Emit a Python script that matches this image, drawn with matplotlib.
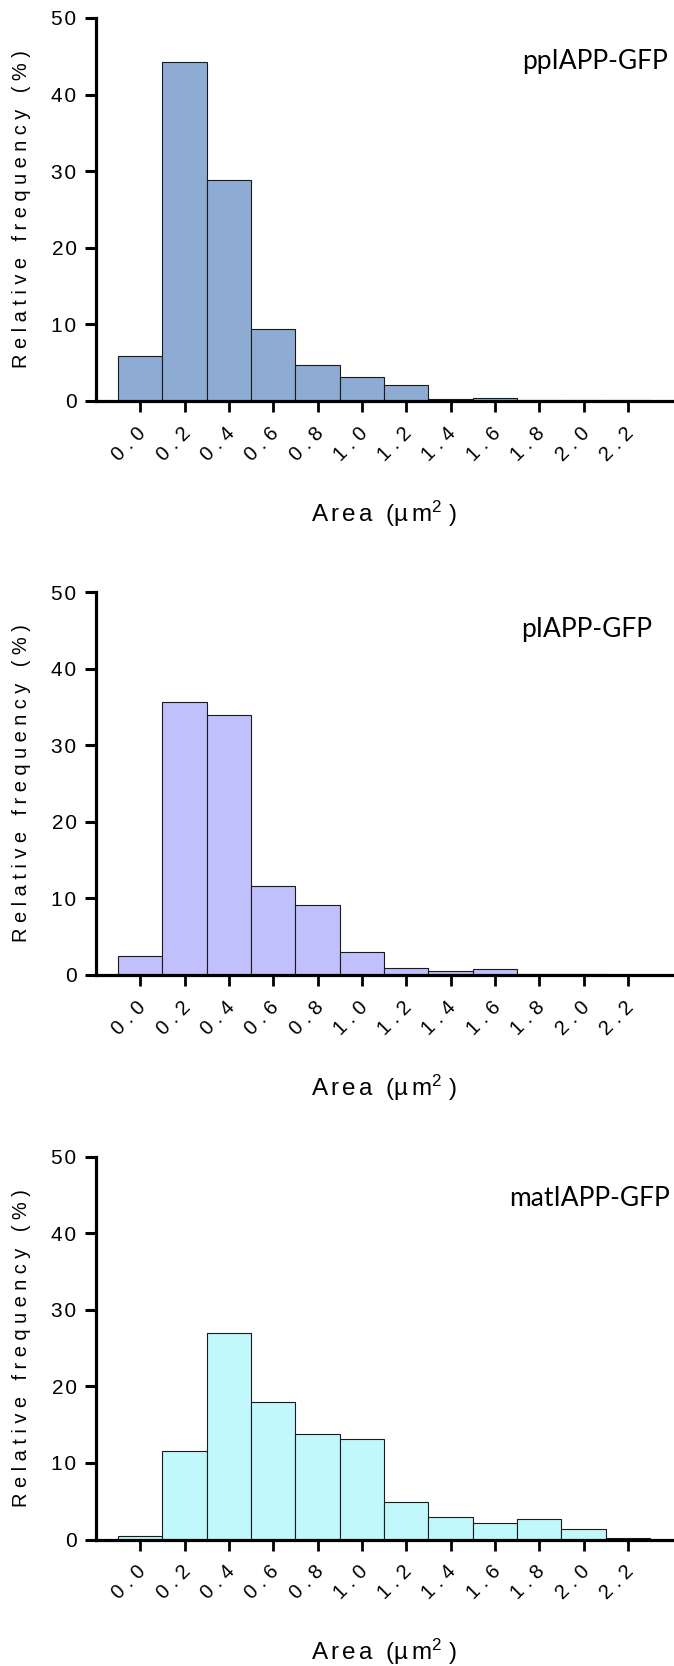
import matplotlib
matplotlib.use("Agg")
import matplotlib.pyplot as plt
from matplotlib.transforms import ScaledTranslation

plt.rcParams['font.family'] = ['Liberation Sans', 'DejaVu Sans']
plt.rcParams['mathtext.fontset'] = 'custom'
plt.rcParams['mathtext.rm'] = 'Liberation Sans'
plt.rcParams['mathtext.it'] = 'Liberation Sans'
plt.rcParams['mathtext.default'] = 'regular'

# Histogram bins (area, µm²) and relative frequencies (%) per construct
bin_centers = [0.0, 0.2, 0.4, 0.6, 0.8, 1.0, 1.2, 1.4, 1.6, 1.8, 2.0, 2.2]
tick_labels = ['0.0', '0.2', '0.4', '0.6', '0.8', '1.0', '1.2', '1.4', '1.6', '1.8', '2.0', '2.2']
y_ticks = [0, 10, 20, 30, 40, 50]

ppiapp_freq = [5.9, 44.3, 28.9, 9.4, 4.7, 3.1, 2.05, 0.3, 0.45, 0.1, 0.1, 0.1]
piapp_freq = [2.5, 35.6, 34.0, 11.6, 9.2, 3.0, 0.96, 0.57, 0.83, 0.1, 0.1, 0.05]
matiapp_freq = [0.43, 11.6, 27.0, 18.0, 13.8, 13.1, 4.96, 2.9, 2.2, 2.7, 1.43, 0.2]

names = ['ppIAPP-GFP', 'pIAPP-GFP', 'matIAPP-GFP']
colors = ['#8eacd3', '#c0c0fc', '#c0f8fc']
series = [ppiapp_freq, piapp_freq, matiapp_freq]
# label anchor (right end, baseline) in data coordinates
name_pos = [(2.38, 43.3), (2.31, 44.1), (2.39, 43.6)]

HAIR = '\u200a'
y_title = ' '.join('Relative frequency (%)')
x_title = r'A$\,$r$\,$e$\,$a  (' + '\u00b5' + r'$\,$m$^{2}$ )'

W, H = 674, 1666
fig = plt.figure(figsize=(W / 100, H / 100), dpi=100)

ax_left = 96 / W
ax_w = 576.3 / W
ax_h = 383 / H
bottoms_px = [401, 975, 1539.5]
label_shift = ScaledTranslation(-4 / 100, 1 / 100, fig.dpi_scale_trans)

for i in range(3):
    ax = fig.add_axes([ax_left, (H - bottoms_px[i]) / H, ax_w, ax_h])
    ax.bar(bin_centers, series[i], width=0.2, align='center',
           color=colors[i], edgecolor='#1a1a1a', linewidth=0.8, zorder=1)
    ax.set_xlim(-0.2, 2.4)
    ax.set_ylim(0, 50)
    for s in ['top', 'right']:
        ax.spines[s].set_visible(False)
    for s in ['left', 'bottom']:
        ax.spines[s].set_linewidth(2.3)
        ax.spines[s].set_color('black')
        ax.spines[s].set_zorder(3)
    ax.set_yticks(y_ticks)
    ax.set_yticklabels([HAIR.join(str(v)) for v in y_ticks])
    ax.set_xticks(bin_centers)
    ax.set_xticklabels([' '.join(t) for t in tick_labels])
    ax.tick_params(axis='y', direction='out', length=8, width=2.2,
                   labelsize=15, pad=6)
    ax.tick_params(axis='x', direction='out', length=8, width=2.0,
                   labelsize=14.5, pad=9)
    for lab in ax.get_xticklabels():
        lab.set_rotation(45)
        lab.set_rotation_mode('anchor')
        lab.set_ha('right')
        lab.set_va('top')
        lab.set_transform(lab.get_transform() + label_shift)

    ax.set_ylabel(y_title, fontsize=14.4)
    ax.yaxis.set_label_coords(-0.113, 0.5)
    ax.set_xlabel(x_title, fontsize=17.5)
    ax.xaxis.set_label_coords(0.5, -0.315)
    ax.xaxis.label.set_va('baseline')

    nx, ny = name_pos[i]
    ax.text(nx, ny, names[i], ha='right', va='baseline', fontsize=19,
            family=['Lato', 'DejaVu Sans'], color='black')

fig.savefig('out.png', dpi=100)
